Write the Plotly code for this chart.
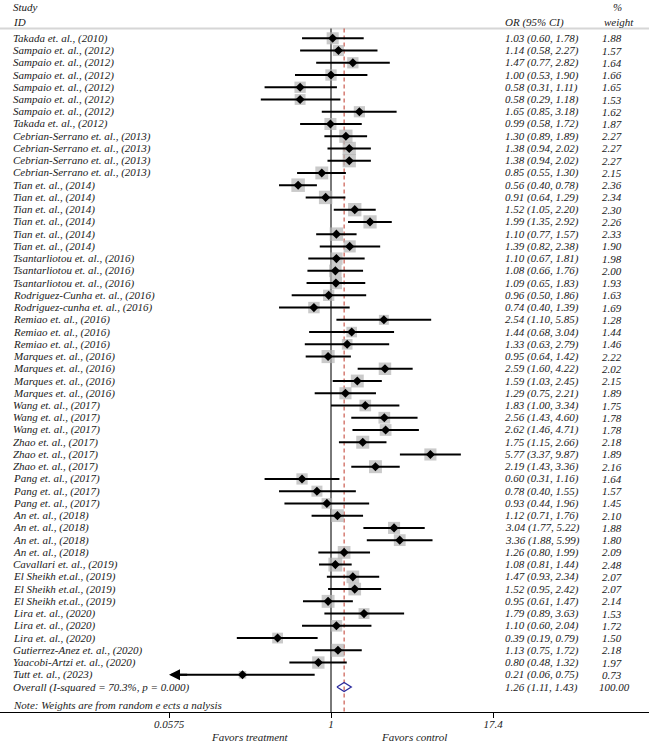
import numpy as np
import plotly.graph_objects as go

studies = [
    "Takada et. al., (2010)",
    "Sampaio et. al., (2012)", "Sampaio et. al., (2012)", "Sampaio et. al., (2012)",
    "Sampaio et. al., (2012)", "Sampaio et. al., (2012)", "Sampaio et. al., (2012)",
    "Takada et. al., (2012)",
    "Cebrian-Serrano et. al., (2013)", "Cebrian-Serrano et. al., (2013)",
    "Cebrian-Serrano et. al., (2013)", "Cebrian-Serrano et. al., (2013)",
    "Tian et. al., (2014)", "Tian et. al., (2014)", "Tian et. al., (2014)",
    "Tian et. al., (2014)", "Tian et. al., (2014)", "Tian et. al., (2014)",
    "Tsantarliotou et. al., (2016)", "Tsantarliotou et. al., (2016)", "Tsantarliotou et. al., (2016)",
    "Rodriguez-Cunha et. al., (2016)", "Rodriguez-cunha et. al., (2016)",
    "Remiao et. al., (2016)", "Remiao et. al., (2016)", "Remiao et. al., (2016)",
    "Marques et. al., (2016)", "Marques et. al., (2016)", "Marques et. al., (2016)", "Marques et. al., (2016)",
    "Wang et. al., (2017)", "Wang et. al., (2017)", "Wang et. al., (2017)",
    "Zhao et. al., (2017)", "Zhao et. al., (2017)", "Zhao et. al., (2017)",
    "Pang et. al., (2017)", "Pang et. al., (2017)", "Pang et. al., (2017)",
    "An et. al., (2018)", "An et. al., (2018)", "An et. al., (2018)", "An et. al., (2018)",
    "Cavallari et. al., (2019)",
    "El Sheikh et.al., (2019)", "El Sheikh et.al., (2019)", "El Sheikh et.al., (2019)",
    "Lira et. al., (2020)", "Lira et. al., (2020)", "Lira et. al., (2020)",
    "Gutierrez-Anez et. al., (2020)",
    "Yaacobi-Artzi et. al., (2020)",
    "Tutt et. al., (2023)",
]
odds = [1.03, 1.14, 1.47, 1.00, 0.58, 0.58, 1.65, 0.99, 1.30, 1.38, 1.38, 0.85,
        0.56, 0.91, 1.52, 1.99, 1.10, 1.39, 1.10, 1.08, 1.09, 0.96, 0.74,
        2.54, 1.44, 1.33, 0.95, 2.59, 1.59, 1.29, 1.83, 2.56, 2.62,
        1.75, 5.77, 2.19, 0.60, 0.78, 0.93, 1.12, 3.04, 3.36, 1.26,
        1.08, 1.47, 1.52, 0.95, 1.79, 1.10, 0.39, 1.13, 0.80, 0.21]
lower = [0.60, 0.58, 0.77, 0.53, 0.31, 0.29, 0.85, 0.58, 0.89, 0.94, 0.94, 0.55,
         0.40, 0.64, 1.05, 1.35, 0.77, 0.82, 0.67, 0.66, 0.65, 0.50, 0.40,
         1.10, 0.68, 0.63, 0.64, 1.60, 1.03, 0.75, 1.00, 1.43, 1.46,
         1.15, 3.37, 1.43, 0.31, 0.40, 0.44, 0.71, 1.77, 1.88, 0.80,
         0.81, 0.93, 0.95, 0.61, 0.89, 0.60, 0.19, 0.75, 0.48, 0.06]
upper = [1.78, 2.27, 2.82, 1.90, 1.11, 1.18, 3.18, 1.72, 1.89, 2.02, 2.02, 1.30,
         0.78, 1.29, 2.20, 2.92, 1.57, 2.38, 1.81, 1.76, 1.83, 1.86, 1.39,
         5.85, 3.04, 2.79, 1.42, 4.22, 2.45, 2.21, 3.34, 4.60, 4.71,
         2.66, 9.87, 3.36, 1.16, 1.55, 1.96, 1.76, 5.22, 5.99, 1.99,
         1.44, 2.34, 2.42, 1.47, 3.63, 2.04, 0.79, 1.72, 1.32, 0.75]
weights = [1.88, 1.57, 1.64, 1.66, 1.65, 1.53, 1.62, 1.87, 2.27, 2.27, 2.27, 2.15,
           2.36, 2.34, 2.30, 2.26, 2.33, 1.90, 1.98, 2.00, 1.93, 1.63, 1.69,
           1.28, 1.44, 1.46, 2.22, 2.02, 2.15, 1.89, 1.75, 1.78, 1.78,
           2.18, 1.89, 2.16, 1.64, 1.57, 1.45, 2.10, 1.88, 1.80, 2.09,
           2.48, 2.07, 2.07, 2.14, 1.53, 1.72, 1.50, 2.18, 1.97, 0.73]
overall_label = "Overall (I-squared = 70.3%, p = 0.000)"
overall_or, overall_lo, overall_hi, overall_w = 1.26, 1.11, 1.43, 100.00
tick_vals = [0.0575, 1, 17.4]
tick_text = ["0.0575", "1", "17.4"]

FONT = "Liberation Serif"
TXT = "#1a1a1a"
FS = 11
n = len(studies)
rows = list(range(n))
ov_row = n
x_min, x_max_tick = tick_vals[0], tick_vals[-1]

# pixel geometry -> axis ranges
W, H = 649, 745
plot_h = 712
px_one = 331
px_per_dec = (493 - 331) / np.log10(x_max_tick)
xr = [-(px_one) / px_per_dec, (W - px_one) / px_per_dec]
row0, dy = 38.3, 12.24
yr = [(plot_h - row0) / dy, -row0 / dy]
top_line = (28.5 - row0) / dy

fig = go.Figure()

# reference lines
fig.add_trace(go.Scatter(x=[1, 1], y=[top_line, yr[0]], mode="lines",
                         line=dict(color="#4d4d4d", width=1.5), hoverinfo="skip", showlegend=False))
fig.add_trace(go.Scatter(x=[overall_or, overall_or], y=[top_line, yr[0]], mode="lines",
                         line=dict(color="#c0392b", width=1, dash="4px,3px"),
                         hoverinfo="skip", showlegend=False))

# weight boxes
fig.add_trace(go.Scatter(x=odds, y=rows, mode="markers",
                         marker=dict(symbol="square", color="#b4b4b4",
                                     size=[8.8 * np.sqrt(w) for w in weights], line=dict(width=0)),
                         hoverinfo="skip", showlegend=False))

# CI lines
cx, cy = [], []
for i in range(n):
    lo = max(lower[i], x_min)
    cx += [lo, upper[i], None]
    cy += [i, i, None]
fig.add_trace(go.Scatter(x=cx, y=cy, mode="lines", line=dict(color="black", width=2),
                         hoverinfo="skip", showlegend=False))

# point estimates
fig.add_trace(go.Scatter(x=odds, y=rows, mode="markers",
                         marker=dict(symbol="diamond", color="black", size=7),
                         hoverinfo="skip", showlegend=False))

# overall diamond
hh = 0.37
fig.add_trace(go.Scatter(x=[overall_lo, overall_or, overall_hi, overall_or, overall_lo],
                         y=[ov_row, ov_row - hh, ov_row, ov_row + hh, ov_row],
                         mode="lines", line=dict(color="#2b2b9e", width=1.3),
                         hoverinfo="skip", showlegend=False))

ann = []
# arrows for clipped CIs
for i in range(n):
    if lower[i] <= x_min * 1.1:
        ann.append(dict(x=np.log10(x_min), y=i, ax=np.log10(x_min) + 0.15, ay=i,
                        xref="x", yref="y", axref="x", ayref="y", text="",
                        showarrow=True, arrowhead=2, arrowsize=1.1, arrowwidth=2,
                        arrowcolor="black"))

def txt(s, xpx, y, yref="y"):
    return dict(x=xpx / W, y=y, xref="paper", yref=yref, text=s,
                showarrow=False, xanchor="left", yanchor="middle", borderpad=0,
                font=dict(family=FONT, size=FS, color=TXT, style="italic"))

for i in range(n):
    ann.append(txt(studies[i], 12, i))
    ann.append(txt(f"{odds[i]:.2f} ({lower[i]:.2f}, {upper[i]:.2f})", 504, i))
    ann.append(txt(f"{weights[i]:.2f}", 601, i))
ann.append(txt(overall_label, 12, ov_row))
ann.append(txt(f"{overall_or:.2f} ({overall_lo:.2f}, {overall_hi:.2f})", 504, ov_row))
ann.append(txt(f"{overall_w:.2f}", 598, ov_row))

# headers
ann.append(txt("Study", 12, (7 - row0) / dy))
ann.append(txt("ID", 12, (22 - row0) / dy))
ann.append(txt("OR (95% CI)", 504, (22 - row0) / dy))
ann.append(txt("%", 612, (7 - row0) / dy))
ann.append(txt("weight", 603, (22 - row0) / dy))
ann.append(txt("Note: Weights are from random e ects a nalysis", 12, (705 - row0) / dy))

# favors labels
for s, cxp in [("Favors treatment", 250), ("Favors control", 414)]:
    ann.append(dict(x=cxp / W, y=1 - 736.5 / plot_h, xref="paper", yref="paper",
                    text=s, showarrow=False, xanchor="center", yanchor="middle", borderpad=0,
                    font=dict(family=FONT, size=FS, color=TXT, style="italic")))

fig.update_layout(
    width=W, height=H,
    margin=dict(l=0, r=0, t=0, b=H - plot_h, pad=0),
    paper_bgcolor="white", plot_bgcolor="white",
    annotations=ann,
    shapes=[dict(type="line", xref="paper", yref="y", x0=0, x1=1, y0=top_line, y1=top_line,
                 line=dict(color="#d6d6d6", width=2), layer="below")],
    xaxis=dict(type="log", range=xr, showgrid=False, zeroline=False,
               showline=True, linecolor="black", linewidth=1,
               tickmode="array", tickvals=tick_vals, ticktext=tick_text,
               ticks="outside", ticklen=5, tickcolor="black", tickwidth=1,
               ticklabelstandoff=-3,
               tickfont=dict(family=FONT, size=FS, color=TXT, style="italic"), fixedrange=True),
    yaxis=dict(range=yr, visible=False, showgrid=False, zeroline=False, fixedrange=True),
    showlegend=False,
)

fig.write_html("out.html")
